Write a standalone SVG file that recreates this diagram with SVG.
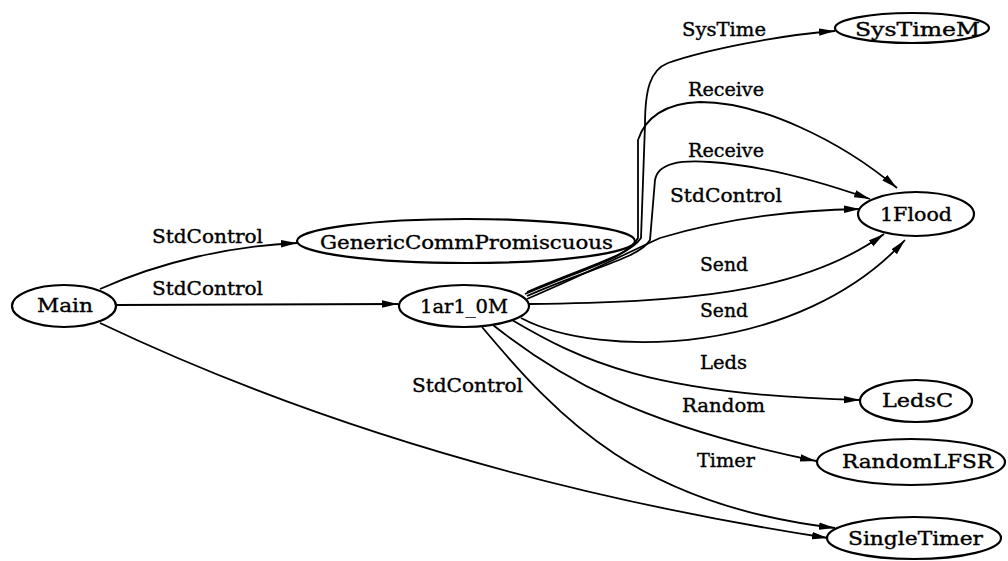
<svg xmlns="http://www.w3.org/2000/svg" width="1008" height="561" viewBox="0 0 1008 561">
<style>
.node ellipse{fill:#fff;stroke:#000;stroke-width:2.2}
text{font-family:"DejaVu Serif","Liberation Serif",serif;font-size:18px;fill:#000;stroke:#000;stroke-width:0.35}
.edge path{fill:none;stroke:#000;stroke-width:1.8;marker-end:url(#ah)}
</style>
<defs>
<marker id="ah" markerUnits="userSpaceOnUse" markerWidth="16" markerHeight="9" refX="16" refY="4.5" orient="auto" viewBox="0 0 16 9">
<path d="M0,0.8 L16,4.5 L0,8.2 z" fill="#000"/>
</marker>
</defs>
<rect width="1008" height="561" fill="#fff"/>
<g id="edges" class="edge">
<path d="M100,289 C160,262 230,246 297,243"/>
<path d="M116,305 L398,304"/>
<path d="M100,323 Q420,475 828,538"/>
<path d="M527,292 C590,265 630,255 641,238 L645,125 C645,90 650,70 668,63 C705,50 780,35 835,31"/>
<path d="M525,294 C585,268 628,258 638,238 L638,140 C645,118 665,103 700,102 C760,102 840,140 897,188"/>
<path d="M527,296 C590,268 640,258 650,240 L655,180 C658,163 680,160 710,162 C770,166 830,185 870,199"/>
<path d="M527,299 C590,272 625,254 660,238 C720,220 790,210 860,209"/>
<path d="M529,304 C680,302 800,295 884,234"/>
<path d="M521,318 C600,360 800,355 905,240"/>
<path d="M512,320 C580,360 650,395 860,400"/>
<path d="M493,325 C560,378 640,425 816,461"/>
<path d="M482,327 C560,420 640,505 835,528"/>
</g>
<g id="edge-labels">
<text x="152" y="243" textLength="111" lengthAdjust="spacingAndGlyphs">StdControl</text>
<text x="152" y="295" textLength="111" lengthAdjust="spacingAndGlyphs">StdControl</text>
<text x="412" y="392" textLength="111" lengthAdjust="spacingAndGlyphs">StdControl</text>
<text x="682" y="36" textLength="84" lengthAdjust="spacingAndGlyphs">SysTime</text>
<text x="688" y="96" textLength="76" lengthAdjust="spacingAndGlyphs">Receive</text>
<text x="688" y="157" textLength="76" lengthAdjust="spacingAndGlyphs">Receive</text>
<text x="670" y="202" textLength="112" lengthAdjust="spacingAndGlyphs">StdControl</text>
<text x="700" y="271" textLength="48" lengthAdjust="spacingAndGlyphs">Send</text>
<text x="700" y="317" textLength="48" lengthAdjust="spacingAndGlyphs">Send</text>
<text x="700" y="369" textLength="47" lengthAdjust="spacingAndGlyphs">Leds</text>
<text x="682" y="412" textLength="83" lengthAdjust="spacingAndGlyphs">Random</text>
<text x="697" y="467" textLength="58" lengthAdjust="spacingAndGlyphs">Timer</text>
</g>
<g id="node-main" class="node"><ellipse cx="64" cy="306" rx="52" ry="21"/><text x="37" y="312" textLength="56" lengthAdjust="spacingAndGlyphs">Main</text></g>
<g id="node-gcp" class="node"><ellipse cx="466" cy="241" rx="169" ry="22"/><text x="320" y="249" textLength="293" lengthAdjust="spacingAndGlyphs">GenericCommPromiscuous</text></g>
<g id="node-1ar1" class="node"><ellipse cx="464" cy="306" rx="65" ry="21"/><text x="420" y="313" textLength="88" lengthAdjust="spacingAndGlyphs">1ar1_0M</text></g>
<g id="node-systimem" class="node"><ellipse cx="912" cy="28" rx="77" ry="15"/><text x="855" y="36" textLength="125" lengthAdjust="spacingAndGlyphs">SysTimeM</text></g>
<g id="node-1flood" class="node"><ellipse cx="916" cy="214" rx="58" ry="22"/><text x="880" y="221" textLength="72" lengthAdjust="spacingAndGlyphs">1Flood</text></g>
<g id="node-ledsc" class="node"><ellipse cx="916" cy="401" rx="56" ry="21"/><text x="882" y="407" textLength="71" lengthAdjust="spacingAndGlyphs">LedsC</text></g>
<g id="node-randomlfsr" class="node"><ellipse cx="911" cy="462" rx="94" ry="23"/><text x="842" y="468" textLength="151" lengthAdjust="spacingAndGlyphs">RandomLFSR</text></g>
<g id="node-singletimer" class="node"><ellipse cx="914" cy="538" rx="87" ry="21"/><text x="848" y="545" textLength="135" lengthAdjust="spacingAndGlyphs">SingleTimer</text></g>
</svg>
